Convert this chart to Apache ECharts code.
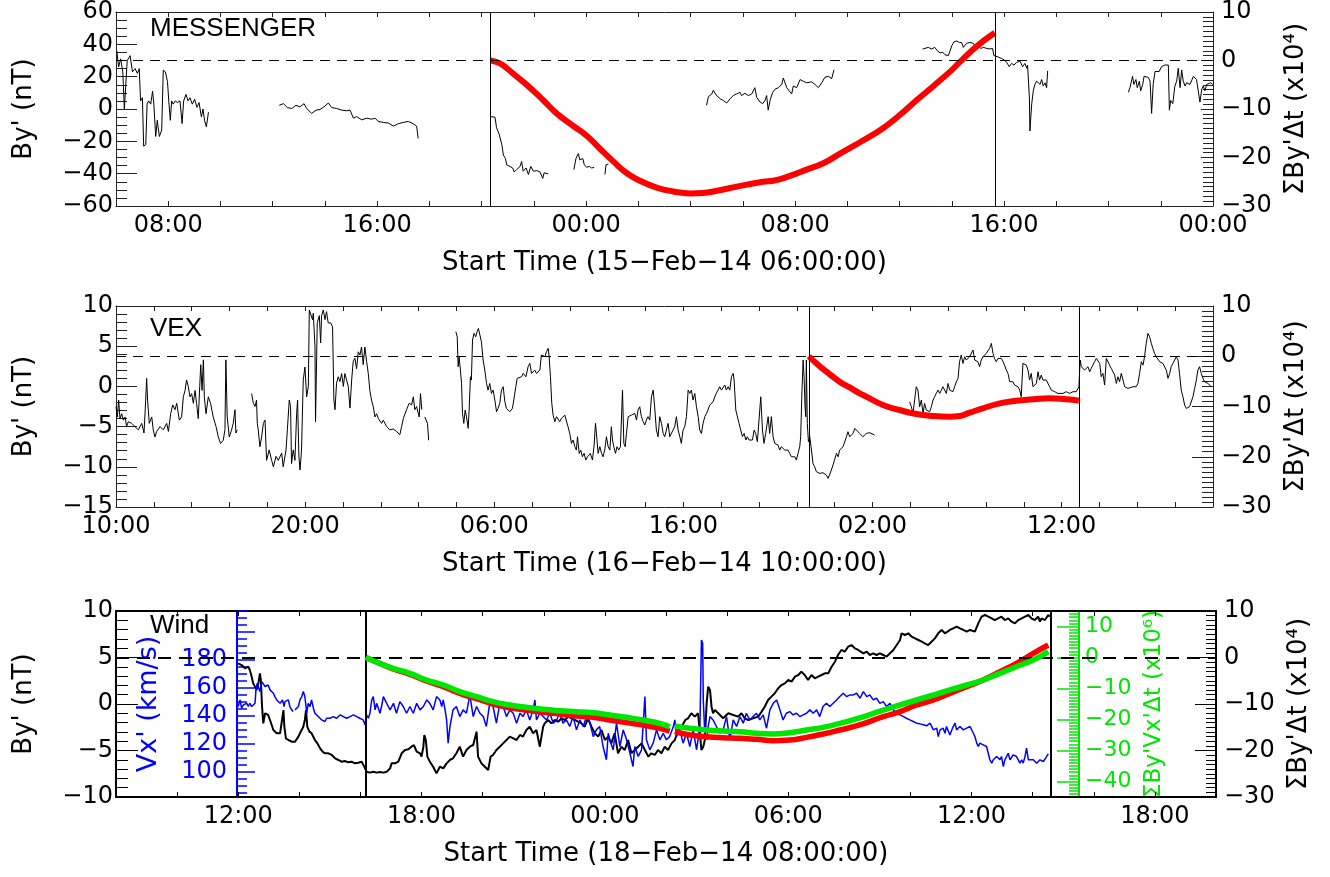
<!DOCTYPE html>
<html><head><meta charset="utf-8">
<script src="https://cdn.jsdelivr.net/npm/echarts@6/dist/echarts.min.js"></script>
<style>html,body{margin:0;padding:0;background:#fff}#c{width:1330px;height:877px}</style>
</head><body><div id="c"></div>
<script>
// ---------------- MESSENGER (hours from 15-Feb-14 00:00) ----------------
const mesA = [[6.03,36],[6.10,26],[6.18,31],[6.26,23],[6.32,0],[6.37,0],[6.43,30],[6.54,33],[6.63,23],[6.73,25],[6.82,22],[6.89,25],[6.94,5],[7.01,7],[7.06,-23],[7.14,-22],[7.19,3],[7.25,5],[7.33,3],[7.40,11],[7.45,3],[7.52,-17],[7.58,-7],[7.66,-17],[7.75,-13],[7.81,24],[7.89,23],[7.97,17],[8.03,3],[8.08,-7],[8.13,5],[8.19,3],[8.27,5],[8.35,4],[8.45,5],[8.53,-9],[8.59,5],[8.68,9],[8.76,5],[8.83,7],[8.92,3],[9.01,6],[9.10,1],[9.18,4],[9.27,-5],[9.33,0],[9.39,-7],[9.46,-11],[9.54,-2]];
const mesB = [[12.25,2.3],[12.41,3.3],[12.56,0.9],[12.73,0.3],[12.89,2.3],[13.04,1.3],[13.20,3.3],[13.30,0.3],[13.49,-2.7],[13.66,-0.7],[13.81,-0.3],[13.96,1.3],[14.13,3.7],[14.26,0.9],[14.45,0.3],[14.64,-0.7],[14.83,-1.1],[14.96,-0.7],[15.09,-5.7],[15.21,-4.7],[15.41,-6.7],[15.60,-5.7],[15.79,-6.3],[15.92,-5.7],[16.04,-7.7],[16.23,-8.3],[16.43,-8.7],[16.62,-10.6],[16.81,-9.1],[17.00,-8.3],[17.19,-7.7],[17.38,-9.1],[17.51,-10.6],[17.57,-18.2]];
const mesC = [[20.36,-4.7],[20.51,-5.1],[20.57,-11.6],[20.67,-15.6],[20.73,-16.6],[20.78,-22.6],[20.83,-28.5],[20.91,-30.6],[20.96,-34.5],[21.19,-36.5],[21.24,-38.9],[21.34,-37.5],[21.47,-35.5],[21.53,-32.5],[21.59,-38.5],[21.70,-36.5],[21.79,-40.5],[21.88,-35.5],[21.98,-38.5],[22.11,-38.1],[22.23,-38.9],[22.34,-42.9],[22.39,-39.5],[22.55,-40.1]];
const mesD = [[23.53,-37.5],[23.61,-30.6],[23.70,-27.6],[23.76,-31.5],[23.87,-30.6],[23.93,-34.5],[24.02,-36.1],[24.12,-35.5],[24.21,-36.5],[24.31,-36.1]];
const mesD2 = [[24.72,-40.5],[24.76,-34.5],[24.85,-34.1]];
const mesE = [[28.61,2.3],[28.68,7.6],[28.81,9.3],[28.87,11.6],[28.97,8.8],[29.13,6.3],[29.25,5.3],[29.38,3.7],[29.51,6.3],[29.63,8.3],[29.76,9.3],[29.89,10.3],[29.95,8.3],[30.08,9.7],[30.21,8.3],[30.34,9.3],[30.46,13.2],[30.53,7.3],[30.66,4.3],[30.76,3.3],[30.85,5.3],[30.91,8.3],[30.97,-0.7],[31.04,5.3],[31.14,10.3],[31.23,12.2],[31.36,13.2],[31.49,15.2],[31.55,19.2],[31.68,13.2],[31.74,14.2],[31.87,9.3],[31.93,14.2],[32.06,13.2],[32.19,18.2],[32.31,17.2],[32.44,16.2],[32.63,16.8],[32.76,15.2],[32.89,13.2],[33.02,16.2],[33.14,19.6],[33.27,20.2],[33.40,18.8],[33.49,24.2]];
const mesF = [[36.88,37.1],[36.97,37.5],[37.10,38.1],[37.23,37.1],[37.35,38.1],[37.44,36.1],[37.55,34.7],[37.65,35.1],[37.74,33.5],[37.87,33.1],[37.93,32.1],[38.00,39.1],[38.08,41.5],[38.19,42.1],[38.29,41.1],[38.38,41.1],[38.44,38.1],[38.50,37.1],[38.57,40.7],[38.70,41.1],[38.82,40.7],[38.93,38.1],[39.01,39.1],[39.11,37.5],[39.21,38.1],[39.33,37.5],[39.46,37.1],[39.56,37.5],[39.61,33.1],[39.68,32.1],[39.78,32.1],[39.91,31.2],[40.03,30.1],[40.10,28.8],[40.20,26.2],[40.29,28.2],[40.38,27.2],[40.48,28.8],[40.61,29.6],[40.71,26.2],[40.80,28.2],[40.87,25.2],[40.90,27.2],[40.97,7.3],[40.99,-13.6],[41.06,3.3],[41.12,11.2],[41.18,15.2],[41.25,17.2],[41.31,17.6],[41.38,15.2],[41.44,18.2],[41.50,14.2],[41.57,16.2],[41.63,13.2],[41.67,23.6]];
const mesG = [[44.76,10.3],[44.82,13.2],[44.92,20.2],[44.97,15.2],[45.05,18.2],[45.10,13.2],[45.18,17.2],[45.23,11.2],[45.31,15.2],[45.36,20.2],[45.43,21.2],[45.52,19.6],[45.59,17.2],[45.65,-2.7],[45.71,15.2],[45.78,23.2],[45.84,24.2],[45.94,23.2],[46.03,26.2],[46.16,27.2],[46.29,27.2],[46.33,-0.7],[46.38,5.3],[46.46,3.3],[46.54,14.2],[46.61,17.2],[46.67,25.2],[46.74,13.2],[46.80,24.2],[46.86,17.2],[46.93,14.2],[46.99,16.2],[47.12,15.2],[47.25,20.2],[47.37,18.2],[47.44,17.2],[47.50,4.3],[47.57,12.2],[47.63,14.2],[47.69,11.2],[47.76,15.2],[47.82,15.2],[47.91,16.2],[47.99,15.2]];
const mesSum = [[20.34,0],[20.70,-0.6],[20.96,-1.6],[21.34,-3.3],[21.85,-5.6],[22.36,-8.2],[22.87,-10.9],[23.51,-13.5],[24.02,-15.5],[24.53,-18.2],[25.04,-20.8],[25.55,-23.2],[26.06,-24.8],[26.70,-26.2],[27.34,-27.0],[27.98,-27.4],[28.48,-27.3],[28.87,-27.0],[29.51,-26.3],[30.15,-25.6],[30.78,-25.0],[31.16,-24.8],[31.80,-23.8],[32.44,-22.5],[33.08,-21.2],[33.72,-19.2],[34.60,-16.5],[35.38,-13.9],[36.02,-11.2],[36.65,-8.2],[37.29,-5.3],[37.93,-2.3],[38.31,-0.3],[38.70,1.7],[39.20,4.0],[39.65,5.7]];
const mesVLines = [20.34, 39.68];

// ---------------- VEX (hours from 16-Feb-14 00:00) ----------------
const vex1 = [[10.00,-2.5],[10.07,-3.8],[10.14,-1.7],[10.21,-4.0],[10.30,-3.4],[10.39,-4.2],[10.48,-3.8],[10.56,-5.0],[10.65,-4.4],[10.83,-4.6],[11.00,-5.0],[11.18,-5.4],[11.36,-4.6],[11.48,-5.8],[11.57,-1.7],[11.62,1.0],[11.67,-1.7],[11.76,-4.6],[11.89,-3.8],[11.97,-5.4],[12.06,-6.3],[12.15,-5.6],[12.33,-5.0],[12.50,-5.4],[12.68,-4.6],[12.77,-5.6],[12.89,-3.4],[13.00,-2.3],[13.12,-2.9],[13.21,-2.1],[13.35,-4.2],[13.47,-3.8],[13.56,-1.3],[13.65,-0.5],[13.73,0.8],[13.82,0],[13.91,-1.3],[14.00,-0.9],[14.09,-2.1],[14.18,-0.5],[14.26,-2.1],[14.35,-4.0],[14.44,-4.2],[14.48,2.7],[14.55,-0.5],[14.62,3.3],[14.67,-1.3],[14.76,-3.4],[14.88,-1.3],[15.00,-2.1],[15.14,-3.8],[15.29,-5.0],[15.41,-6.3],[15.53,-7.1],[15.67,-6.7],[15.76,-5.4],[15.81,3.3],[15.88,-3.8],[15.99,-6.3],[16.11,-5.4],[16.20,-4.6],[16.29,-2.9],[16.34,-5.8],[16.41,-5.4]];
const vex2 = [[17.17,-0.9],[17.26,-2.1],[17.35,-2.5],[17.43,-1.7],[17.47,-4.6],[17.52,-5.4],[17.61,-7.5],[17.70,-6.3],[17.79,-4.6],[17.88,-4.2],[17.96,-9.2],[18.10,-7.9],[18.23,-9.2],[18.32,-10.0],[18.46,-8.7],[18.58,-9.2],[18.76,-8.3],[18.84,-10.0],[18.99,-7.9],[19.06,-5.4],[19.16,-1.7],[19.23,-2.5],[19.28,-9.6],[19.37,-7.9],[19.46,-9.2],[19.55,-3.4],[19.60,-1.7],[19.67,-8.7],[19.73,-10.4],[19.81,-7.9],[19.90,0.8],[19.99,2.4],[20.08,-1.3],[20.17,0],[20.22,9.5],[20.29,9.7],[20.39,8.3],[20.43,9.1],[20.52,5.0],[20.55,-4.4],[20.64,7.9],[20.75,8.8],[20.82,5.4],[20.87,8.8],[20.96,9.5],[21.05,8.3],[21.13,9.3],[21.22,7.9],[21.28,8.1],[21.35,7.9],[21.45,7.4],[21.52,-1.7],[21.58,-2.9],[21.66,0.4],[21.75,1.2],[21.84,0.6],[21.93,1.6],[22.02,0],[22.10,1.6],[22.19,0.8],[22.28,0],[22.37,-2.7],[22.46,0.8],[22.54,3.1],[22.63,3.5],[22.72,2.2],[22.81,4.3],[22.90,3.9],[22.98,4.9],[23.07,2.7],[23.16,4.9],[23.25,3.1],[23.34,1.6],[23.42,-0.5],[23.51,-1.7],[23.60,-2.5],[23.69,-3.8],[23.78,-3.4],[23.87,-4.0],[23.95,-4.2],[24.04,-4.6],[24.13,-4.2],[24.31,-5.0],[24.48,-5.4],[24.66,-5.3],[24.83,-5.6],[25.01,-6.0],[25.10,-5.0],[25.19,-4.0],[25.36,-2.9],[25.50,-2.1],[25.63,-2.3],[25.72,-1.3],[25.80,-2.9],[25.89,-2.5],[26.03,-3.8],[26.10,-0.9],[26.17,-2.9]];
const vex3 = [[26.33,-3.8],[26.42,-3.6],[26.47,-4.6],[26.53,-6.7]];
const vex4 = [[27.97,6.80],[28.04,6.18],[28.09,2.45],[28.14,3.69],[28.21,2.03],[28.27,0.37],[28.32,-3.36],[28.39,-4.60],[28.46,-2.94],[28.53,-3.77],[28.62,-5.22],[28.67,-2.94],[28.74,1.20],[28.79,0.79],[28.85,5.76],[28.93,6.59],[29.02,6.18],[29.09,6.80],[29.16,7.21],[29.23,7.01],[29.32,5.56],[29.41,3.28],[29.50,2.03],[29.59,0.37],[29.67,-0.46],[29.76,0.37],[29.85,-0.87],[29.94,-0.46],[30.03,-1.70],[30.12,-3.15],[30.20,-2.74],[30.29,-2.11],[30.38,-0.46],[30.47,-0.04],[30.56,-1.91],[30.64,-2.74],[30.82,-3.15],[30.96,-2.74],[31.03,-1.70],[31.14,-0.04],[31.21,1.00],[31.31,0.79],[31.44,1.20],[31.53,1.62],[31.67,1.20],[31.79,2.45],[31.88,2.86],[31.97,1.62],[32.05,1.41],[32.14,2.03],[32.23,1.62],[32.32,1.82],[32.41,2.03],[32.49,3.90],[32.58,4.10],[32.67,3.69],[32.76,4.31],[32.85,4.73],[32.90,3.69],[32.97,1.20],[33.04,-2.11],[33.11,-3.57],[33.20,-4.39],[33.29,-3.77],[33.38,-3.98],[33.46,-4.39],[33.55,-3.98],[33.64,-3.77],[33.73,-3.57],[33.82,-3.77],[33.90,-5.02],[33.99,-5.85],[34.08,-7.09],[34.17,-6.67],[34.26,-7.50],[34.34,-7.92],[34.40,-6.26],[34.49,-8.33],[34.57,-7.92],[34.66,-8.75],[34.75,-8.33],[34.84,-9.16],[34.93,-8.75],[35.01,-8.96],[35.08,-8.33],[35.19,-9.16],[35.28,-7.30],[35.35,-4.60],[35.40,-5.85],[35.49,-8.33],[35.58,-7.50],[35.67,-8.33],[35.75,-8.75],[35.84,-7.92],[35.93,-6.26],[36.02,-7.50],[36.11,-7.92],[36.19,-5.02],[36.25,-6.67],[36.32,-7.50],[36.41,-8.33],[36.49,-7.50],[36.58,-7.92],[36.67,-7.50],[36.78,-0.46],[36.85,-7.09],[36.92,-7.50],[36.99,-5.85],[37.08,-3.77],[37.16,-3.98],[37.25,-3.57],[37.34,-3.77],[37.43,-3.36],[37.52,-4.19],[37.60,-2.94],[37.69,-2.53],[37.78,-3.77],[37.87,-4.39],[37.96,-4.81],[38.04,-4.19],[38.13,-3.77],[38.22,-4.19],[38.31,-1.29],[38.40,-0.46],[38.48,-2.53],[38.57,-5.43],[38.66,-6.26],[38.75,-3.77],[38.84,-4.60],[38.93,-5.85],[39.01,-6.26],[39.10,-5.43],[39.19,-4.60],[39.28,-6.26],[39.37,-6.26],[39.45,-5.43],[39.54,-5.02],[39.63,-3.77],[39.72,-5.43],[39.81,-6.26],[39.89,-7.09],[39.98,-5.43],[40.07,-5.02],[40.16,-3.77],[40.25,-0.46],[40.34,-0.87],[40.42,-0.46],[40.51,-1.70],[40.60,-0.87],[40.69,-2.53],[40.78,-3.77],[40.86,-5.43],[40.95,-5.85],[41.04,-4.60],[41.13,-3.77],[41.22,-3.36],[41.30,-2.94],[41.39,-2.32],[41.48,-2.53],[41.57,-1.91],[41.66,-1.29],[41.74,-0.87],[41.83,-0.46],[41.92,-0.04],[42.01,-0.46],[42.10,-0.25],[42.19,0.17],[42.27,-0.46],[42.36,-0.04],[42.45,-0.46],[42.54,1.20],[42.63,1.62],[42.68,0.79],[42.71,-0.46],[42.77,-2.94],[42.85,-2.94],[42.94,-4.60],[43.03,-5.43],[43.12,-6.26],[43.21,-5.85],[43.30,-6.67],[43.38,-6.26],[43.47,-6.67],[43.56,-6.88],[43.65,-6.67],[43.74,-5.43],[43.82,-5.85],[43.91,-6.88],[44.00,-6.67],[44.09,-1.29],[44.18,-5.43],[44.26,-7.09],[44.35,-5.85],[44.48,-3.77],[44.56,-5.85],[44.65,-3.77],[44.74,-6.26],[44.83,-7.09],[44.92,-7.09],[45.00,-7.30],[45.09,-7.92],[45.18,-7.50],[45.27,-7.71],[45.36,-7.92],[45.45,-8.13],[45.53,-7.92],[45.62,-8.33],[45.71,-8.75],[45.80,-8.96],[45.89,-8.75],[45.97,-9.16],[46.06,-8.33],[46.15,-7.50],[46.20,-6.26],[46.27,-0.46],[46.33,3.28],[46.38,1.20],[46.43,-2.53],[46.47,-3.77],[46.50,3.28],[46.55,-4.60],[46.61,-6.88],[46.68,-6.26],[46.77,-7.92],[46.85,-9.58],[46.94,-9.99],[47.03,-10.61],[47.21,-10.82],[47.38,-10.74],[47.56,-11.03],[47.65,-11.44],[47.74,-11.24],[47.82,-10.41],[47.91,-9.78],[48.00,-9.58],[48.09,-8.33],[48.18,-8.75],[48.26,-7.92],[48.44,-7.50],[48.62,-6.26],[48.70,-5.64],[48.79,-6.26],[48.97,-5.85],[49.06,-5.22],[49.15,-5.43],[49.32,-5.85],[49.49,-6.26],[49.67,-5.85],[49.85,-5.76],[50.11,-6.05]];
const vex5 = [[51.96,-1.91],[52.05,-2.53],[52.14,-3.36],[52.23,-3.15],[52.31,-0.04],[52.40,-0.46],[52.49,-2.53],[52.58,-1.70],[52.67,-3.36],[52.75,-2.11],[52.84,-2.94],[52.93,-2.74],[53.02,-3.15],[53.11,-2.53],[53.20,-1.70],[53.28,-1.29],[53.37,-0.87],[53.46,-0.46],[53.55,-0.87],[53.64,-0.46],[53.72,-0.04],[53.81,-0.25],[53.90,-0.87],[53.99,0.37],[54.08,-0.46],[54.16,-0.25],[54.25,-0.66],[54.34,-0.04],[54.43,0.58],[54.52,1.00],[54.60,3.07],[54.69,3.90],[54.78,2.86],[54.87,3.69],[54.96,3.28],[55.05,3.48],[55.13,3.69],[55.22,3.48],[55.31,4.52],[55.40,3.28],[55.49,3.48],[55.57,3.07],[55.66,2.45],[55.75,3.28],[55.84,3.69],[55.93,3.48],[56.01,4.10],[56.10,3.90],[56.19,4.73],[56.28,5.35],[56.37,4.10],[56.45,3.48],[56.54,3.07],[56.63,3.48],[56.72,3.28],[56.81,3.48],[56.90,3.07],[56.98,2.65],[57.07,2.03],[57.16,1.62],[57.25,0.58],[57.34,0.37],[57.42,0.58],[57.51,0.17],[57.60,0.37],[57.69,-0.04],[57.78,-0.46],[57.86,-1.29],[57.95,2.86],[58.04,3.07],[58.13,2.65],[58.22,2.03],[58.30,0.79],[58.39,1.62],[58.48,-0.04],[58.57,0.17],[58.66,0.37],[58.75,1.82],[58.83,0.79],[58.92,1.41],[59.01,0.79],[59.10,1.00],[59.19,0.79],[59.27,0.58],[59.36,-0.04],[59.45,-0.46],[59.54,-0.25],[59.63,-0.66],[59.71,-0.46],[59.80,-0.87],[59.89,-0.66],[60.07,-0.87],[60.24,-0.66],[60.42,-0.87],[60.60,-0.66],[60.77,-0.66],[60.86,-0.46],[60.91,-0.04],[60.95,2.03],[60.98,3.28],[61.04,2.45],[61.12,2.65],[61.21,2.03],[61.30,2.24],[61.39,2.45],[61.48,1.82],[61.56,2.24],[61.65,2.65],[61.74,3.07],[61.83,3.48],[61.92,3.28],[62.01,2.86],[62.09,1.20],[62.18,1.62],[62.27,0.17],[62.36,3.48],[62.45,3.07],[62.53,2.65],[62.62,2.24],[62.71,2.03],[62.80,1.41],[62.89,0.37],[62.97,1.20],[63.06,0.58],[63.15,1.62],[63.24,0.79],[63.33,-0.04],[63.41,0.17],[63.50,-0.25],[63.59,-0.04],[63.77,-0.04],[63.94,-0.04],[64.03,0.37],[64.12,1.62],[64.21,3.07],[64.30,2.65],[64.38,3.69],[64.47,5.35],[64.56,6.59],[64.65,6.18],[64.74,5.35],[64.82,4.73],[64.91,4.10],[65.00,3.69],[65.09,3.48],[65.18,3.07],[65.26,3.28],[65.35,2.86],[65.44,3.07],[65.53,2.03],[65.62,1.00],[65.71,1.62],[65.79,2.45],[65.88,2.86],[65.97,3.07],[66.06,3.69],[66.15,3.28],[66.23,1.62],[66.32,-0.46],[66.41,-1.29],[66.50,-2.32],[66.59,-2.74],[66.67,-2.94],[66.76,-2.53],[66.85,-2.32],[66.94,-1.29],[67.03,-0.25],[67.12,0.79],[67.20,2.03],[67.29,2.45],[67.38,1.62],[67.47,1.00],[67.56,0.58],[67.64,0.79],[67.73,0.37],[67.82,0.17],[67.91,-0.04]];
const vexSum = [[46.63,0],[47.03,-1.41],[47.56,-3.07],[48.26,-5.06],[48.79,-6.2],[49.32,-7.38],[49.67,-8.04],[50.55,-9.70],[51.43,-10.70],[52.31,-11.49],[53.20,-11.89],[54.08,-12.02],[54.60,-11.89],[55.13,-11.23],[55.84,-10.36],[56.72,-9.37],[57.60,-8.84],[58.48,-8.57],[59.36,-8.37],[60.24,-8.57],[60.91,-8.84]];
const vexVLines = [46.63, 60.95];

// ---------------- Wind (hours from 18-Feb-14 00:00) ----------------
const windBy = [[12.00,4.37],[12.11,4.19],[12.22,3.84],[12.33,4.01],[12.38,3.66],[12.44,2.94],[12.49,2.22],[12.55,1.86],[12.60,1.51],[12.66,2.22],[12.71,3.30],[12.74,2.58],[12.78,-0.29],[12.82,-2.08],[12.88,-1.00],[12.93,-1.18],[12.98,-1.18],[13.04,-1.72],[13.09,-1.54],[13.15,-2.80],[13.20,-2.97],[13.26,-3.15],[13.31,-2.97],[13.37,-3.15],[13.42,-2.97],[13.48,-0.65],[13.51,-2.44],[13.56,-3.69],[13.64,-3.87],[13.75,-4.05],[13.86,-4.05],[13.97,-3.51],[14.02,-3.15],[14.08,-2.97],[14.13,-2.44],[14.18,-1.72],[14.22,-0.65],[14.26,-2.44],[14.33,-2.97],[14.40,-3.15],[14.46,-3.33],[14.51,-3.87],[14.59,-4.23],[14.68,-4.77],[14.76,-5.13],[14.84,-5.30],[14.95,-5.30],[15.06,-5.48],[15.17,-5.84],[15.28,-6.02],[15.38,-6.20],[15.49,-6.13],[15.60,-6.27],[15.71,-6.20],[15.82,-6.38],[15.93,-6.31],[16.04,-6.20],[16.09,-6.38],[16.15,-6.92],[16.20,-7.28],[16.31,-7.38],[16.42,-7.28],[16.53,-7.38],[16.64,-7.31],[16.75,-7.38],[16.86,-7.28],[16.97,-6.92],[17.02,-6.38],[17.13,-6.38],[17.24,-6.20],[17.35,-5.30],[17.46,-4.95],[17.57,-4.87],[17.67,-4.59],[17.75,-4.41],[17.84,-5.13],[17.95,-5.30],[18.00,-5.66],[18.06,-4.59],[18.09,-3.33],[18.14,-3.87],[18.19,-5.66],[18.27,-6.20],[18.38,-6.74],[18.49,-7.46],[18.60,-6.74],[18.71,-6.92],[18.82,-6.38],[18.93,-6.02],[19.03,-5.84],[19.14,-5.30],[19.25,-4.59],[19.36,-5.66],[19.47,-4.95],[19.58,-4.59],[19.69,-4.41],[19.80,-2.97],[19.85,-5.66],[19.96,-6.38],[20.07,-6.74],[20.18,-7.10],[20.26,-5.66],[20.34,-5.48],[20.45,-4.95],[20.56,-4.59],[20.67,-4.23],[20.78,-3.87],[20.89,-3.51],[21.00,-3.69],[21.11,-3.87],[21.22,-3.33],[21.32,-3.51],[21.43,-2.80],[21.54,-2.44],[21.65,-3.15],[21.76,-2.80],[21.87,-4.59],[21.98,-2.44],[22.03,-2.08],[22.14,-1.72],[22.25,-2.08],[22.36,-1.72],[22.47,-1.90],[22.58,-1.54],[22.69,-1.72],[22.80,-1.36],[22.91,-1.54],[23.02,-1.72],[23.12,-1.90],[23.23,-2.08],[23.34,-2.44],[23.45,-1.54],[23.56,-2.44],[23.67,-3.15],[23.78,-3.51],[23.89,-2.80],[24.00,-3.87],[24.11,-3.51],[24.21,-4.23],[24.32,-3.15],[24.43,-5.30],[24.54,-4.59],[24.65,-4.95],[24.76,-3.87],[24.87,-5.30],[24.98,-4.95],[25.09,-4.59],[25.20,-4.23],[25.31,-4.95],[25.42,-5.66],[25.52,-5.30],[25.63,-5.48],[25.74,-4.95],[25.85,-5.30],[25.96,-4.59],[26.07,-4.95],[26.18,-4.23],[26.29,-3.87],[26.40,-2.80],[26.51,-2.44],[26.63,-1.72],[26.72,-1.54],[26.83,-1.00],[26.94,-1.36],[27.05,-1.00],[27.11,-3.15],[27.16,-4.95],[27.22,-4.59],[27.27,-3.87],[27.33,0.07],[27.38,1.86],[27.44,1.51],[27.49,-0.29],[27.54,-1.00],[27.60,-0.65],[27.71,-1.00],[27.87,-1.54],[28.04,-1.00],[28.20,-1.18],[28.36,-1.36],[28.47,-1.00],[28.58,-1.54],[28.69,-1.72],[28.85,-1.54],[29.02,-1.36],[29.13,-0.82],[29.23,-0.29],[29.34,0.43],[29.45,0.79],[29.56,1.15],[29.67,1.68],[29.78,2.04],[29.89,2.22],[30.00,2.58],[30.11,2.40],[30.22,2.94],[30.33,3.12],[30.43,3.48],[30.54,3.12],[30.65,2.58],[30.76,3.12],[30.87,2.76],[30.98,2.94],[31.09,3.12],[31.20,3.30],[31.31,3.30],[31.42,4.01],[31.53,4.55],[31.63,5.27],[31.74,5.81],[31.85,5.63],[31.96,6.16],[32.07,6.34],[32.18,5.99],[32.29,5.81],[32.35,5.81],[32.46,5.45],[32.57,5.63],[32.67,5.27],[32.78,5.45],[32.89,5.27],[33.00,5.45],[33.11,5.27],[33.22,5.09],[33.33,5.45],[33.44,5.81],[33.55,6.34],[33.66,6.88],[33.71,7.60],[33.82,7.42],[33.93,7.60],[34.04,7.24],[34.15,7.06],[34.26,6.88],[34.37,6.70],[34.47,6.52],[34.58,6.34],[34.69,6.70],[34.80,7.06],[34.91,7.60],[35.02,7.96],[35.13,7.60],[35.18,7.78],[35.29,7.96],[35.40,8.14],[35.51,8.32],[35.62,8.14],[35.73,7.96],[35.84,7.78],[35.95,7.96],[36.11,7.78],[36.22,8.67],[36.33,9.39],[36.44,9.57],[36.55,9.39],[36.66,9.21],[36.76,9.03],[36.87,9.21],[36.98,9.39],[37.09,9.03],[37.20,9.21],[37.31,8.85],[37.42,8.67],[37.53,9.03],[37.64,9.21],[37.75,9.39],[37.86,9.57],[37.96,9.21],[38.07,9.03],[38.18,9.39],[38.24,8.85],[38.29,9.21],[38.40,9.03],[38.51,9.57],[38.56,9.39]];
const windVx1 = [[12.00,146.7],[12.06,151.4],[12.11,145.5],[12.17,147.9],[12.22,146.7],[12.28,149.0],[12.33,146.7],[12.38,149.0],[12.44,146.7],[12.49,147.9],[12.55,149.0],[12.58,158.6],[12.62,163.3],[12.67,162.1],[12.71,157.4],[12.77,164.5],[12.82,163.3],[12.88,161.0],[12.93,159.8],[12.98,162.1],[13.04,158.6],[13.09,159.8],[13.15,156.2],[13.20,153.8],[13.26,151.4],[13.31,152.6],[13.37,149.0],[13.42,147.9],[13.45,151.4],[13.50,146.7],[13.53,150.2],[13.58,149.0],[13.64,151.4],[13.69,146.7],[13.75,144.3],[13.80,143.1]];
const windVx2 = [[13.86,144.3],[13.91,145.5],[13.97,146.7],[14.02,151.4],[14.08,153.8],[14.13,157.4],[14.18,153.8],[14.22,146.7],[14.24,141.9],[14.29,149.0],[14.35,146.7],[14.40,151.4],[14.46,145.5],[14.51,141.9],[14.57,140.7],[14.62,139.5],[14.68,140.7],[14.73,137.1],[14.78,137.1],[14.84,136.0],[14.89,138.3],[14.95,137.1],[15.00,138.3],[15.06,137.1],[15.11,139.5],[15.22,138.3],[15.33,140.7],[15.44,139.5],[15.55,138.3],[15.66,139.5],[15.77,140.7],[15.88,139.5],[15.98,138.3],[16.09,137.1],[16.15,133.6],[16.20,140.7],[16.26,138.3],[16.31,141.9],[16.37,151.4],[16.42,153.8],[16.48,144.3],[16.53,149.0],[16.64,141.9],[16.69,146.7],[16.75,153.8],[16.86,149.0],[16.97,144.3],[17.08,149.0],[17.18,141.9],[17.29,150.2],[17.40,146.7],[17.51,141.9],[17.62,146.7],[17.73,141.9],[17.84,149.0],[17.95,144.3],[18.06,146.7],[18.17,151.4],[18.27,149.0],[18.38,144.3],[18.49,153.8],[18.60,151.4],[18.66,146.7],[18.71,151.4],[18.77,144.3],[18.82,137.1],[18.87,120.5],[18.93,132.4],[19.03,144.3],[19.14,146.7],[19.25,139.5],[19.36,144.3],[19.47,141.9],[19.58,155.0],[19.69,139.5],[19.80,146.7],[19.91,141.9],[20.02,139.5],[20.12,132.4],[20.23,149.0],[20.34,146.7],[20.45,134.8],[20.56,149.0],[20.67,146.7],[20.78,139.5],[20.89,144.3],[21.00,141.9],[21.11,134.8],[21.22,141.9],[21.32,139.5],[21.43,144.3],[21.54,137.1],[21.65,144.3],[21.71,151.4],[21.76,137.1],[21.87,141.9],[21.98,139.5],[22.09,137.1],[22.20,141.9],[22.31,134.8],[22.42,137.1],[22.52,141.9],[22.63,134.8],[22.74,137.1],[22.85,132.4],[22.96,139.5],[23.07,130.0],[23.18,137.1],[23.29,132.4],[23.40,139.5],[23.51,134.8],[23.62,125.2],[23.72,130.0],[23.83,132.4],[23.94,118.1],[24.05,108.6],[24.11,127.6],[24.16,122.9],[24.27,115.7],[24.38,134.8],[24.49,118.1],[24.60,130.0],[24.71,122.9],[24.82,113.3],[24.92,103.8],[24.98,118.1],[25.09,111.0],[25.20,115.7],[25.31,153.8],[25.36,122.9],[25.47,115.7],[25.58,120.5],[25.69,130.0],[25.80,122.9],[25.91,127.6],[26.01,122.9],[26.12,125.2],[26.24,132.4],[26.29,137.1],[26.34,125.2],[26.45,130.0],[26.56,120.5],[26.67,127.6],[26.78,118.1],[26.89,130.0],[27.00,115.7],[27.11,132.4],[27.16,194.3],[27.20,191.9],[27.22,151.4],[27.27,127.6],[27.33,122.9],[27.38,132.4],[27.44,139.5],[27.54,137.1],[27.65,132.4],[27.76,127.6],[27.87,130.0],[27.98,139.5],[28.09,122.9],[28.20,137.1],[28.31,132.4],[28.42,139.5],[28.53,134.8],[28.63,141.9],[28.74,137.1],[28.85,139.5],[28.96,141.9],[29.07,137.1],[29.18,140.7],[29.29,131.2],[29.40,144.3],[29.51,149.0],[29.62,151.4],[29.73,144.3],[29.83,137.1],[29.94,141.9],[30.05,143.1],[30.16,140.7],[30.27,141.9],[30.38,139.5],[30.49,140.7],[30.60,141.9],[30.71,144.3],[30.82,141.9],[30.93,144.3],[31.03,139.5],[31.14,146.7],[31.25,149.0],[31.36,146.7],[31.47,149.0],[31.58,151.4],[31.69,153.8],[31.80,156.2],[31.91,153.8],[32.02,155.0],[32.13,155.0],[32.24,156.2],[32.35,152.6],[32.46,157.4],[32.57,153.8],[32.67,155.0],[32.78,151.4],[32.89,152.6],[33.00,149.0],[33.11,150.2],[33.22,146.7],[33.33,149.0],[33.44,144.3],[33.55,141.9],[33.66,140.7],[33.77,139.5],[33.87,138.3],[33.98,137.1],[34.09,136.0],[34.20,134.8],[34.31,134.3],[34.42,133.6],[34.53,132.9],[34.64,134.8],[34.75,130.0],[34.86,131.2],[34.91,125.2],[34.97,130.0],[35.07,131.2],[35.13,127.6],[35.18,132.4],[35.29,126.4],[35.40,132.4],[35.46,134.8],[35.51,130.0],[35.57,128.8],[35.62,132.4],[35.73,130.0],[35.84,131.2],[35.95,132.4],[36.06,127.6],[36.11,125.2],[36.17,120.5],[36.22,118.1],[36.27,120.5],[36.38,119.3],[36.49,118.1],[36.60,108.6],[36.66,106.2],[36.71,108.6],[36.82,111.0],[36.93,108.6],[36.98,111.0],[37.04,103.8],[37.09,108.6],[37.15,111.0],[37.20,113.3],[37.26,108.6],[37.36,112.1],[37.47,111.0],[37.58,106.2],[37.64,108.6],[37.69,106.2],[37.75,111.0],[37.80,116.9],[37.86,108.6],[37.91,107.4],[38.02,108.6],[38.13,106.2],[38.24,108.6],[38.35,107.4],[38.46,111.0],[38.51,112.9]];
const windSum1 = [[16.17,0],[16.63,-1.25],[17.07,-2.47],[17.62,-3.62],[18.16,-5.05],[18.71,-6.27],[19.25,-7.71],[19.80,-8.85],[20.34,-10.0],[20.89,-10.79],[21.43,-11.29],[21.98,-11.79],[22.52,-12.15],[23.07,-12.58],[23.62,-12.87],[24.16,-13.44],[24.71,-14.01],[25.25,-14.52],[25.80,-15.23],[26.12,-15.81]];
const windSum2 = [[26.29,-15.95],[26.78,-16.67],[27.33,-17.03],[27.87,-17.24],[28.42,-17.38],[28.96,-17.6],[29.51,-17.89],[30.05,-17.74],[30.60,-17.17],[31.14,-16.45],[31.69,-15.59],[32.34,-14.5],[33.11,-12.72],[33.66,-11.65],[34.20,-10.22],[34.75,-9.14],[35.29,-7.71],[35.84,-6.27],[36.38,-4.84],[36.93,-3.05],[37.47,-1.25],[38.02,0.9],[38.51,2.69]];
const windSumVx1 = [[16.17,0],[16.63,-1.88],[17.07,-3.49],[17.62,-5.11],[18.16,-7.26],[18.71,-8.87],[19.25,-11.02],[19.80,-12.63],[20.34,-14.25],[20.89,-15.32],[21.43,-16.08],[21.98,-16.72],[22.52,-17.15],[23.07,-17.47],[23.62,-17.8],[24.16,-18.55],[24.71,-19.3],[25.25,-20.16],[25.80,-21.24],[26.12,-22.31]];
const windSumVx2 = [[26.29,-22.1],[26.78,-22.85],[27.33,-23.39],[27.87,-23.71],[28.42,-23.92],[28.96,-24.46],[29.51,-24.68],[30.05,-24.25],[30.60,-23.39],[31.14,-22.53],[31.69,-21.24],[32.34,-19.5],[33.11,-16.94],[33.66,-15.32],[34.20,-13.71],[34.75,-12.1],[35.29,-10.48],[35.84,-8.87],[36.38,-7.26],[36.93,-5.11],[37.47,-2.96],[38.02,-0.81],[38.51,1.88]];
const windVLines = [16.17, 38.6];

// ---------------- tick labels ----------------
const mesXLabelHours = [8,16,24,32,40,48];
const vexXLabelHours = [10,20,30,40,50,60];
const windXLabelHours = [12,18,24,30,36,42];
const blueMajorTicks = [100,120,140,160,180,200];
const blueTickLabels = [100,120,140,160,180];
const greenMajorTicks = [-40,-30,-20,-10,0,10];
const greenTickLabels = [-40,-30,-20,-10,0,10];

const blueMinorTicks = []; for (let v = 85; v <= 215; v += 5) blueMinorTicks.push(v);
const greenMinorTicks = []; for (let v = -44; v <= 14; v += 1) greenMinorTicks.push(v);

const FONT = 'DejaVu Sans';
const BLUE = '#0000ff', GREEN = '#00e600', RED = '#ff0000';
const fmtY = v => v < 0 ? '\u2212' + Math.abs(v) : String(v);
function fmtX(labels) {
  return v => { const h = Math.round(v); if (labels.indexOf(h) < 0) return ''; const hh = h % 24; return (hh < 10 ? '0' : '') + hh + ':00'; };
}

function xPair(gi, min, max, labels, name, lw, col) {
  const base = {type:'value', gridIndex:gi, min:min, max:max, interval:2, splitLine:{show:false},
    axisLine:{show:true, onZero:false, lineStyle:{color:col, width:lw}},
    axisTick:{show:true, inside:true, length:5, lineStyle:{color:col, width:1}}};
  return [
    Object.assign({}, base, {position:'bottom',
      axisLabel:{show:true, formatter:fmtX(labels), fontFamily:FONT, fontSize:24, color:'#000', margin:8},
      name:name, nameLocation:'middle', nameGap:44,
      nameTextStyle:{fontFamily:FONT, fontSize:26, color:'#000'}}),
    Object.assign({}, base, {position:'top', axisLabel:{show:false}})
  ];
}
function yAx(gi, pos, min, max, interval, minorSplit, majLen, minLen, name, nameGap, lw, col) {
  return {type:'value', gridIndex:gi, position:pos, min:min, max:max, interval:interval,
    splitLine:{show:false},
    axisLine:{show:true, onZero:false, lineStyle:{color:col, width:lw}},
    axisTick:{show:true, inside:true, length:majLen, lineStyle:{color:col, width:1}},
    minorTick:{show:true, splitNumber:minorSplit, length:minLen, lineStyle:{color:col, width:1}},
    axisLabel:{formatter:fmtY, fontFamily:FONT, fontSize:24, color:'#000', margin:(pos === 'left' ? 3 : 8)},
    name:name, nameLocation:'middle', nameRotate:90, nameGap:nameGap,
    nameTextStyle:{fontFamily:FONT, fontSize:26, color:'#000'}};
}
function line(xi, yi, data, color, width, z, smooth) {
  return {type:'line', xAxisIndex:xi, yAxisIndex:yi, data:data, showSymbol:false, symbol:'none',
    smooth:!!smooth, lineStyle:{color:color, width:width}, itemStyle:{color:color},
    animation:false, silent:true, z:z || 2};
}
function marks(vlines, lw, dash) {
  return {symbol:['none','none'], silent:true, label:{show:false}, animation:false,
    data:[{yAxis:0, lineStyle:{type:dash, color:'#000', width:lw}}].concat(
      vlines.map(x => ({xAxis:x, lineStyle:{type:'solid', color:'#000', width:lw}})))};
}

const FR = '#222';
const xAxes = [].concat(
  xPair(0, 6, 48, mesXLabelHours, 'Start Time (15\u2212Feb\u221214 06:00:00)', 1, FR),
  xPair(1, 10, 68, vexXLabelHours, 'Start Time (16\u2212Feb\u221214 10:00:00)', 1, FR),
  xPair(2, 8, 44, windXLabelHours, 'Start Time (18\u2212Feb\u221214 08:00:00)', 2, '#000')
);
const yAxes = [
  yAx(0, 'left', -60, 60, 20, 4, 21, 11, "By' (nT)", 79, 1, FR),
  yAx(0, 'right', -30, 10, 10, 10, 12, 10, "\u03A3By'\u0394t (x10\u2074)", 70, 1, FR),
  yAx(1, 'left', -15, 10, 5, 5, 21, 11, "By' (nT)", 79, 1, FR),
  yAx(1, 'right', -30, 10, 10, 10, 21, 11, "\u03A3By'\u0394t (x10\u2074)", 70, 1, FR),
  yAx(2, 'left', -10, 10, 5, 5, 22, 12, "By' (nT)", 79, 2, '#000'),
  yAx(2, 'right', -30, 10, 10, 10, 21, 10, "\u03A3By'\u0394t (x10\u2074)", 70, 2, '#000'),
  // 6: blue axis (major ticks + labels)
  {type:'value', gridIndex:2, position:'left', offset:-121, min:82, max:215,
    splitLine:{show:false},
    axisLine:{show:true, onZero:false, lineStyle:{color:BLUE, width:2}},
    axisTick:{show:true, inside:true, length:18, customValues:blueMajorTicks, lineStyle:{color:BLUE, width:1.5}},
    axisLabel:{show:true, customValues:blueTickLabels, formatter:v => String(v), fontFamily:FONT, fontSize:24, color:BLUE, margin:10},
    name:"Vx' (km/s)", nameLocation:'middle', nameRotate:90, nameGap:75,
    nameTextStyle:{fontFamily:FONT, fontSize:27, color:BLUE}},
  // 7: blue minor ticks
  {type:'value', gridIndex:2, position:'left', offset:-121, min:82, max:215,
    splitLine:{show:false}, axisLine:{show:false, onZero:false},
    axisTick:{show:true, inside:true, length:10, customValues:blueMinorTicks, lineStyle:{color:BLUE, width:1.5}},
    axisLabel:{show:false}},
  // 8: green axis (major ticks + labels)
  {type:'value', gridIndex:2, position:'right', offset:-137, min:-45, max:15,
    splitLine:{show:false},
    axisLine:{show:true, onZero:false, lineStyle:{color:GREEN, width:2}},
    axisTick:{show:true, inside:true, length:22, customValues:greenMajorTicks, lineStyle:{color:GREEN, width:1.5}},
    axisLabel:{show:true, customValues:greenTickLabels, formatter:fmtY, fontFamily:FONT, fontSize:22, color:GREEN, margin:6},
    name:"\u03A3By'Vx'\u0394t (x10\u2076)", nameLocation:'middle', nameRotate:90, nameGap:63,
    nameTextStyle:{fontFamily:FONT, fontSize:23, color:GREEN}},
  // 9: green minor ticks
  {type:'value', gridIndex:2, position:'right', offset:-137, min:-45, max:15,
    splitLine:{show:false}, axisLine:{show:false, onZero:false},
    axisTick:{show:true, inside:true, length:10, customValues:greenMinorTicks, lineStyle:{color:GREEN, width:1.5}},
    axisLabel:{show:false}}
];

const series = [];
[mesA, mesB, mesC, mesD, mesD2, mesE, mesF, mesG].forEach(s => series.push(line(0, 0, s, '#000', 1, 2)));
const mesRed = line(0, 1, mesSum, RED, 6, 4, true); mesRed.markLine = marks(mesVLines, 1, [10, 7]); series.push(mesRed);

[vex1, vex2, vex3, vex4, vex5].forEach(s => series.push(line(2, 2, s, '#000', 1, 2)));
const vexRed = line(2, 3, vexSum, RED, 6, 4, true); vexRed.markLine = marks(vexVLines, 1, [10, 7]); series.push(vexRed);

series.push(line(4, 4, windBy, '#000', 2, 2));
[windVx1, windVx2].forEach(s => series.push(line(4, 6, s, BLUE, 1.5, 3)));
const wr1 = line(4, 5, windSum1, RED, 5.5, 4, true); wr1.markLine = marks(windVLines, 2, [13, 8]); series.push(wr1);
series.push(line(4, 5, windSum2, RED, 5.5, 4, true));
[windSumVx1, windSumVx2].forEach(s => series.push(line(4, 8, s, GREEN, 5.5, 5, true)));

const titleFont = '26px "Liberation Sans"';
const chart = echarts.init(document.getElementById('c'), null, {renderer:'canvas'});
chart.setOption({
  animation:false,
  backgroundColor:'#fff',
  grid:[
    {left:116, top:5, width:1097, height:201},
    {left:116, top:306, width:1097, height:201},
    {left:116, top:611, width:1100, height:186}
  ],
  xAxis:xAxes,
  yAxis:yAxes,
  series:series,
  graphic:[
    {type:'text', left:150, top:16, style:{text:'MESSENGER', font:titleFont, fill:'#000'}},
    {type:'text', left:150, top:316, style:{text:'VEX', font:titleFont, fill:'#000'}},
    {type:'text', left:150, top:613, style:{text:'Wind', font:titleFont, fill:'#000'}}
  ]
});
</script>
</body></html>
